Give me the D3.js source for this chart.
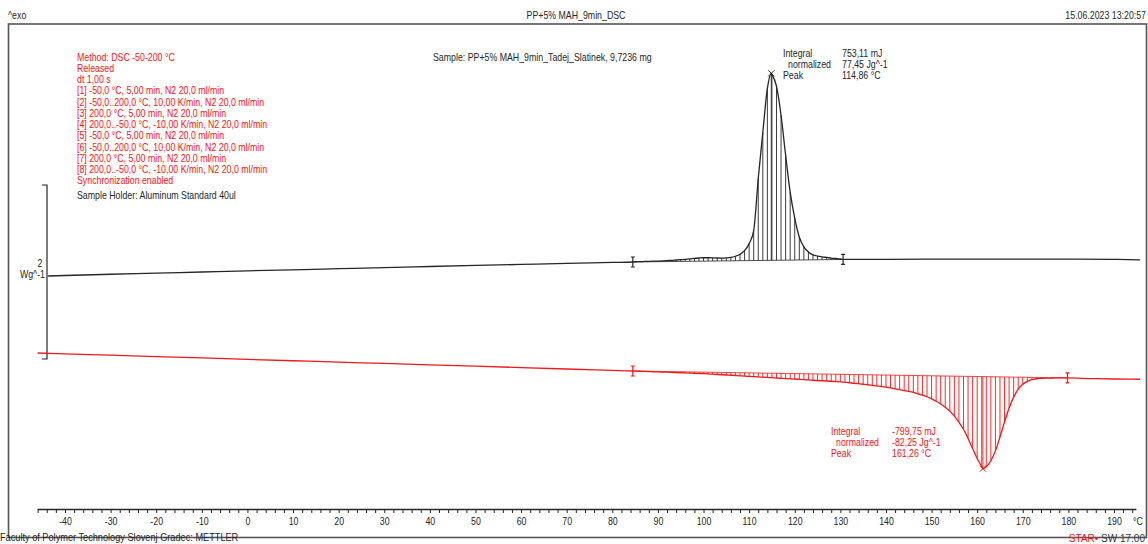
<!DOCTYPE html>
<html>
<head>
<meta charset="utf-8">
<script src="https://cdn.jsdelivr.net/npm/d3@7"></script>
<style>
body{margin:0;background:#fff;overflow:hidden;}
svg text{font-family:"Liberation Sans",Arial,sans-serif;font-size:10px;}
</style>
</head>
<body>
<svg id="chart" width="1148" height="544"></svg>
<script>
// cooling run (black, exo up): [temperature °C, heat flow Wg^-1]
const coolCurve = [
  [-43.7,-0.046],[-40,-0.040],[-30,-0.026],[-20,-0.013],[-10,0.000],[0,0.013],[10,0.025],[20,0.038],
  [30,0.051],[40,0.063],[50,0.075],[60,0.087],[70,0.099],[80,0.110],[84.5,0.115],
  [85,0.118],[86,0.119],[87,0.121],[88,0.123],[89,0.125],[90,0.126],[91,0.128],[92,0.131],[93,0.134],
  [94,0.138],[95,0.142],[96,0.146],[97,0.151],[98,0.157],[99,0.161],[100,0.164],[101,0.164],[102,0.163],
  [103,0.161],[104,0.160],[105,0.162],[106,0.167],[107,0.181],[108,0.204],[109,0.245],[110,0.326],
  [111,0.476],[112,1.075],[113,1.604],[114,2.110],[114.86,2.283],[115,2.272],[116,2.135],[117,1.802],
  [118,1.343],[119,0.918],[120,0.620],[121,0.402],[122,0.288],[123,0.231],[124,0.197],[125,0.182],
  [126,0.173],[127,0.167],[128,0.160],[129,0.155],[130,0.150],[130.6,0.144],
  [140,0.146],[150,0.148],[160,0.149],[170,0.149],[180,0.148],[190,0.145],[195.7,0.140]
];
// heating run (red, endo down)
const heatCurve = [
  [-46,-0.931],[-40,-0.941],[-30,-0.956],[-20,-0.972],[-10,-0.988],[0,-1.004],[10,-1.020],[20,-1.036],
  [30,-1.051],[40,-1.067],[50,-1.083],[60,-1.099],[70,-1.115],[80,-1.131],[84.5,-1.138],
  [85,-1.140],[86,-1.141],[87,-1.143],[88,-1.145],[89,-1.147],[90,-1.148],[91,-1.150],[92,-1.152],
  [93,-1.154],[94,-1.156],[95,-1.158],[96,-1.160],[97,-1.162],[98,-1.164],[99,-1.166],[100,-1.168],
  [101,-1.171],[102,-1.175],[103,-1.178],[104,-1.181],[105,-1.184],[106,-1.187],[107,-1.190],[108,-1.193],
  [109,-1.197],[110,-1.200],[111,-1.203],[112,-1.206],[113,-1.209],[114,-1.212],[115,-1.215],[116,-1.219],
  [117,-1.222],[118,-1.225],[119,-1.228],[120,-1.231],[121,-1.234],[122,-1.237],[123,-1.241],[124,-1.244],
  [125,-1.247],[126,-1.250],[127,-1.253],[128,-1.256],[129,-1.259],[130,-1.263],[131,-1.268],[132,-1.273],
  [133,-1.279],[134,-1.284],[135,-1.290],[136,-1.296],[137,-1.303],[138,-1.310],[139,-1.316],[140,-1.323],
  [141,-1.333],[142,-1.343],[143,-1.353],[144,-1.363],[145,-1.373],[146,-1.385],[147,-1.400],[148,-1.416],
  [149,-1.434],[150,-1.458],[151,-1.485],[152,-1.517],[153,-1.554],[154,-1.599],[155,-1.657],[156,-1.727],
  [157,-1.808],[158,-1.913],[159,-2.028],[160,-2.144],[161,-2.237],[161.26,-2.260],[162,-2.238],[163,-2.170],
  [164,-2.056],[165,-1.896],[166,-1.724],[167,-1.564],[168,-1.438],[169,-1.347],[170,-1.291],[171,-1.257],
  [172,-1.237],[173,-1.227],[174,-1.223],[175,-1.220],[176,-1.219],[177,-1.218],[178,-1.218],[179,-1.218],
  [179.8,-1.218],[185,-1.225],[190,-1.230],[195.7,-1.233]
];
const coolLimits = [84.5, 130.6];
const heatLimits = [84.5, 179.8];
const coolPeak = 114.86;
const heatPeak = 161.26;
const coolResults = [["Integral", "753,11 mJ"], ["normalized", "77,45 Jg^-1"], ["Peak", "114,86 °C"]];
const heatResults = [["Integral", "-799,75 mJ"], ["normalized", "-82,25 Jg^-1"], ["Peak", "161,26 °C"]];
const methodLines = [
  "Method: DSC -50-200 °C",
  "Released",
  "dt 1,00 s",
  "[1] -50,0 °C, 5,00 min, N2 20,0 ml/min",
  "[2] -50,0..200,0 °C, 10,00 K/min, N2 20,0 ml/min",
  "[3] 200,0 °C, 5,00 min, N2 20,0 ml/min",
  "[4] 200,0..-50,0 °C, -10,00 K/min, N2 20,0 ml/min",
  "[5] -50,0 °C, 5,00 min, N2 20,0 ml/min",
  "[6] -50,0..200,0 °C, 10,00 K/min, N2 20,0 ml/min",
  "[7] 200,0 °C, 5,00 min, N2 20,0 ml/min",
  "[8] 200,0..-50,0 °C, -10,00 K/min, N2 20,0 ml/min",
  "Synchronization enabled"
];
const tickLabels = [-40, -30, -20, -10, 0, 10, 20, 30, 40, 50, 60, 70, 80, 90, 100, 110, 120, 130, 140, 150, 160, 170, 180, 190];
const axisRange = [-46.1, 194.8];
const scaleBar = [-1, 1];

const red = "#f01818", ink = "#262626";
const svg = d3.select("#chart");

let x = d3.scaleLinear().domain([-40, 190]).range([65, 1114]);
let y = d3.scaleLinear().domain([-1, 1]).range([359, 185]);

// squeezed text, the STARe print is narrow
function label(px, py, str, color, anchor) {
  return svg.append("text")
    .attr("transform", "translate(" + px + "," + py + ") scale(0.88,1)")
    .attr("text-anchor", anchor || "start")
    .attr("fill", color || ink)
    .text(str);
}

// frame + header
svg.append("rect").attr("x", 8.5).attr("y", 24).attr("width", 1138).attr("height", 513.5)
  .attr("fill", "none").attr("stroke", "#555").attr("stroke-width", 1.6);
label(8, 19, "^exo");
label(576, 19, "PP+5% MAH_9min_DSC", ink, "middle");
label(1146, 19, "15.06.2023 13:20:57", ink, "end");

// method block
methodLines.forEach(function(t, i) { label(77, 60.5 + i * 11.27, t, red); });
label(77, 198.5, "Sample Holder: Aluminum Standard 40ul");
label(433, 61, "Sample: PP+5% MAH_9min_Tadej_Slatinek, 9,7236 mg");

// x axis
let axisScale = x.copy().domain(axisRange).range(axisRange.map(x));
let xAxis = d3.axisBottom(axisScale)
  .tickValues(d3.range(-46, 195, 2))
  .tickSize(4).tickSizeOuter(0).tickPadding(4.5)
  .tickFormat(function(d) { return tickLabels.indexOf(d) >= 0 ? d : ""; });
let gx = svg.append("g").attr("transform", "translate(0,509)").call(xAxis);
gx.select(".domain").attr("stroke", ink).attr("stroke-width", 1.3);
gx.selectAll(".tick line").attr("stroke", ink);
gx.selectAll(".tick text").attr("fill", ink).attr("font-size", 10)
  .attr("font-family", "Liberation Sans, Arial, sans-serif").attr("transform", "scale(0.88,1)");
label(1133, 524.5, "°C");

// y scale bar
svg.append("path")
  .attr("d", "M42," + y(scaleBar[1]) + "H47V" + y(scaleBar[0]) + "H42")
  .attr("fill", "none").attr("stroke", ink).attr("stroke-width", 1.2);
label(40, 267, "2", ink, "middle");
label(45, 277.5, "Wg^-1", ink, "end");

let line = d3.line().x(function(d) { return x(d[0]); }).y(function(d) { return y(d[1]); })
  .curve(d3.curveMonotoneX);

function integral(curve, limits, peak, color) {
  let at = function(t) { return curve.find(function(d) { return d[0] === t; })[1]; };
  let base = d3.scaleLinear().domain(limits).range([at(limits[0]), at(limits[1])]);
  let inside = curve.filter(function(d) { return d[0] > limits[0] && d[0] < limits[1]; });
  let g = svg.append("g").attr("stroke", color);
  g.selectAll("line.hatch").data(inside).join("line")
    .attr("class", "hatch")
    .attr("x1", function(d) { return x(d[0]); }).attr("x2", function(d) { return x(d[0]); })
    .attr("y1", function(d) { return y(base(d[0])); }).attr("y2", function(d) { return y(d[1]); })
    .attr("stroke-width", 0.9);
  g.append("line")
    .attr("x1", x(limits[0])).attr("x2", x(limits[1]))
    .attr("y1", y(at(limits[0]))).attr("y2", y(at(limits[1])))
    .attr("stroke-width", 0.8);
  g.selectAll("path.lim").data(limits).join("path")
    .attr("class", "lim").attr("fill", "none").attr("stroke-width", 1.2)
    .attr("d", function(t) {
      let px = x(t), py = y(at(t));
      return "M" + px + "," + (py - 5) + "V" + (py + 5) +
        "M" + (px - 2) + "," + (py - 5) + "h4M" + (px - 2) + "," + (py + 5) + "h4";
    });
  let cx = x(peak), cy = y(at(peak));
  g.append("path").attr("fill", "none").attr("stroke-width", 1)
    .attr("d", "M" + (cx - 3) + "," + (cy - 3) + "l6,6M" + (cx - 3) + "," + (cy + 3) + "l6,-6");
}

integral(coolCurve, coolLimits, coolPeak, ink);
integral(heatCurve, heatLimits, heatPeak, red);

svg.append("path").datum(coolCurve).attr("d", line)
  .attr("fill", "none").attr("stroke", ink).attr("stroke-width", 1.3);
svg.append("path").datum(heatCurve).attr("d", line)
  .attr("fill", "none").attr("stroke", red).attr("stroke-width", 1.3);

// results
coolResults.forEach(function(r, i) {
  label(783 + (i === 1 ? 5 : 0), 56.5 + i * 11.2, r[0]);
  label(842, 56.5 + i * 11.2, r[1]);
});
heatResults.forEach(function(r, i) {
  label(831 + (i === 1 ? 5 : 0), 434.5 + i * 11.4, r[0], red);
  label(892, 434.5 + i * 11.4, r[1], red);
});

// footer
svg.append("text").attr("x", 0).attr("y", 541.5).attr("font-size", 9.2).attr("fill", ink)
  .attr("transform", "scale(0.92,1)")
  .text("Faculty of Polymer Technology Slovenj Gradec: METTLER");
let star = svg.append("text").attr("x", 1145).attr("y", 541.5).attr("font-size", 9.2)
  .attr("text-anchor", "end").attr("fill", ink);
star.append("tspan").attr("fill", red).text("STAR");
star.append("tspan").attr("fill", red).text("\u2022 ");
star.append("tspan").attr("fill", "#3a3a4a").text("SW 17.00");
</script>
</body>
</html>
